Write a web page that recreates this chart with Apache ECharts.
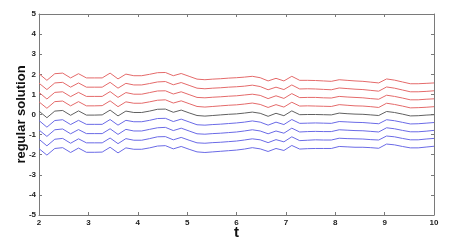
<!DOCTYPE html>
<html><head><meta charset="utf-8">
<script src="https://cdn.jsdelivr.net/npm/echarts@6/dist/echarts.min.js"></script>
<style>html,body{margin:0;padding:0;background:#fff}#c{width:460px;height:241px}</style>
</head><body><div id="c"></div>
<script>
var t = [2,2.16,2.32,2.48,2.64,2.8,2.96,3.12,3.28,3.44,3.6,3.76,3.92,4.08,4.24,4.4,4.56,4.72,4.88,5.04,5.2,5.36,5.52,5.68,5.84,6,6.16,6.32,6.48,6.64,6.8,6.96,7.12,7.28,7.44,7.6,7.76,7.92,8.08,8.24,8.4,8.56,8.72,8.88,9.04,9.2,9.36,9.52,9.68,9.84,10];
var red1 = [2.03,1.70,2.03,2.06,1.82,2.03,1.82,1.82,1.82,2.06,1.77,2.01,1.93,1.93,2.00,2.08,2.09,1.93,2.04,1.90,1.76,1.73,1.76,1.78,1.81,1.83,1.86,1.90,1.83,1.67,1.80,1.67,1.90,1.70,1.70,1.69,1.67,1.65,1.73,1.70,1.67,1.65,1.61,1.57,1.77,1.71,1.62,1.53,1.53,1.55,1.57];
var red2 = [1.56,1.24,1.57,1.60,1.36,1.57,1.36,1.36,1.36,1.60,1.31,1.55,1.47,1.47,1.54,1.62,1.64,1.48,1.59,1.45,1.31,1.28,1.31,1.33,1.36,1.38,1.41,1.46,1.39,1.23,1.36,1.24,1.47,1.27,1.28,1.27,1.25,1.23,1.32,1.29,1.26,1.24,1.20,1.16,1.37,1.31,1.22,1.13,1.13,1.15,1.18];
var red3 = [1.10,0.77,1.10,1.13,0.89,1.10,0.90,0.90,0.90,1.14,0.85,1.09,1.01,1.01,1.09,1.17,1.18,1.02,1.13,0.99,0.85,0.83,0.86,0.88,0.91,0.93,0.97,1.01,0.95,0.79,0.93,0.80,1.04,0.84,0.85,0.85,0.83,0.82,0.90,0.87,0.85,0.83,0.79,0.76,0.96,0.90,0.82,0.73,0.73,0.76,0.78];
var red4 = [0.63,0.31,0.64,0.67,0.43,0.64,0.43,0.43,0.44,0.68,0.39,0.63,0.56,0.56,0.63,0.71,0.73,0.57,0.68,0.54,0.40,0.37,0.40,0.43,0.46,0.48,0.52,0.57,0.50,0.35,0.49,0.37,0.61,0.42,0.43,0.42,0.41,0.40,0.49,0.46,0.43,0.42,0.39,0.35,0.56,0.50,0.42,0.33,0.34,0.36,0.39];
var black0 = [0.17,-0.16,0.17,0.20,-0.04,0.18,-0.03,-0.03,-0.02,0.22,-0.07,0.17,0.10,0.10,0.17,0.26,0.27,0.11,0.22,0.08,-0.05,-0.08,-0.05,-0.02,0.01,0.03,0.07,0.12,0.06,-0.09,0.06,-0.06,0.18,-0.01,0.00,0.00,-0.01,-0.02,0.07,0.04,0.02,0.01,-0.02,-0.05,0.15,0.10,0.02,-0.07,-0.06,-0.03,-0.01];
var blue1 = [-0.30,-0.63,-0.30,-0.26,-0.50,-0.29,-0.49,-0.49,-0.49,-0.25,-0.53,-0.29,-0.36,-0.36,-0.29,-0.20,-0.19,-0.35,-0.23,-0.37,-0.51,-0.53,-0.50,-0.48,-0.45,-0.42,-0.38,-0.32,-0.38,-0.53,-0.38,-0.50,-0.25,-0.44,-0.43,-0.42,-0.43,-0.44,-0.35,-0.37,-0.39,-0.40,-0.43,-0.46,-0.26,-0.31,-0.39,-0.47,-0.46,-0.43,-0.40];
var blue2 = [-0.77,-1.09,-0.76,-0.72,-0.96,-0.75,-0.95,-0.95,-0.95,-0.71,-0.99,-0.74,-0.82,-0.82,-0.74,-0.66,-0.64,-0.80,-0.68,-0.82,-0.96,-0.98,-0.95,-0.93,-0.90,-0.87,-0.82,-0.76,-0.82,-0.96,-0.82,-0.93,-0.68,-0.87,-0.85,-0.84,-0.85,-0.85,-0.76,-0.78,-0.80,-0.81,-0.84,-0.87,-0.66,-0.71,-0.79,-0.86,-0.86,-0.83,-0.79];
var blue3 = [-1.23,-1.56,-1.23,-1.19,-1.43,-1.21,-1.41,-1.41,-1.41,-1.17,-1.45,-1.20,-1.28,-1.28,-1.20,-1.11,-1.10,-1.26,-1.14,-1.28,-1.41,-1.43,-1.40,-1.38,-1.35,-1.32,-1.27,-1.21,-1.26,-1.40,-1.25,-1.36,-1.11,-1.30,-1.28,-1.26,-1.27,-1.27,-1.18,-1.20,-1.21,-1.22,-1.25,-1.27,-1.07,-1.11,-1.19,-1.26,-1.26,-1.22,-1.19];
var blue4 = [-1.70,-2.02,-1.69,-1.65,-1.89,-1.67,-1.88,-1.88,-1.87,-1.63,-1.91,-1.66,-1.73,-1.73,-1.66,-1.57,-1.55,-1.71,-1.59,-1.73,-1.86,-1.89,-1.86,-1.83,-1.80,-1.77,-1.72,-1.65,-1.71,-1.84,-1.69,-1.79,-1.54,-1.72,-1.70,-1.69,-1.69,-1.69,-1.59,-1.61,-1.63,-1.63,-1.65,-1.68,-1.47,-1.51,-1.59,-1.66,-1.66,-1.62,-1.58];
var xTicks = [2,3,4,5,6,7,8,9,10];
var yTicks = [-5,-4,-3,-2,-1,0,1,2,3,4,5];

var RED = '#e46a6a', BLUE = '#6a6ae6', BLACK = '#606060';
var lines = [[red1,RED],[red2,RED],[red3,RED],[red4,RED],[black0,BLACK],[blue1,BLUE],[blue2,BLUE],[blue3,BLUE],[blue4,BLUE]];
var series = lines.map(function(l){
  return {type:'line', xAxisIndex:0, yAxisIndex:0, symbol:'none', animation:false,
    data: t.map(function(x,i){return [x,l[0][i]];}),
    lineStyle:{color:l[1], width:1}};
});
var axLine = {show:true, onZero:false, lineStyle:{color:'#7a7a7a', width:1}};
var tick = {show:true, inside:true, length:3, lineStyle:{color:'#7a7a7a'}};
var lab = {fontFamily:'Liberation Sans', fontWeight:'bold', fontSize:8, color:'#222'};
var chart = echarts.init(document.getElementById('c'), null, {renderer:'canvas'});
chart.setOption({
  animation:false,
  grid:{left:39, right:26, top:14, bottom:26, containLabel:false, outerBoundsMode:'none'},
  xAxis:[
    {type:'value', min:xTicks[0], max:xTicks[xTicks.length-1], interval:1, position:'bottom',
     axisLine:axLine, axisTick:tick, splitLine:{show:false},
     axisLabel:Object.assign({margin:4}, lab),
     name:'t', nameLocation:'middle', nameGap:10, nameMoveOverlap:false,
     nameTextStyle:{fontFamily:'Liberation Sans', fontWeight:'bold', fontSize:15, color:'#111'}},
    {type:'value', min:xTicks[0], max:xTicks[xTicks.length-1], interval:1, position:'top',
     axisLine:axLine, axisTick:tick, splitLine:{show:false}, axisLabel:{show:false}}
  ],
  yAxis:[
    {type:'value', min:yTicks[0], max:yTicks[yTicks.length-1], interval:1, position:'left',
     axisLine:axLine, axisTick:tick, splitLine:{show:false},
     axisLabel:Object.assign({margin:3}, lab),
     name:'regular solution', nameLocation:'middle', nameGap:11, nameRotate:90, nameMoveOverlap:false,
     nameTextStyle:{fontFamily:'Liberation Sans', fontWeight:'bold', fontSize:13, color:'#111'}},
    {type:'value', min:yTicks[0], max:yTicks[yTicks.length-1], interval:1, position:'right',
     axisLine:axLine, axisTick:tick, splitLine:{show:false}, axisLabel:{show:false}}
  ],
  series:series
});
</script></body></html>
